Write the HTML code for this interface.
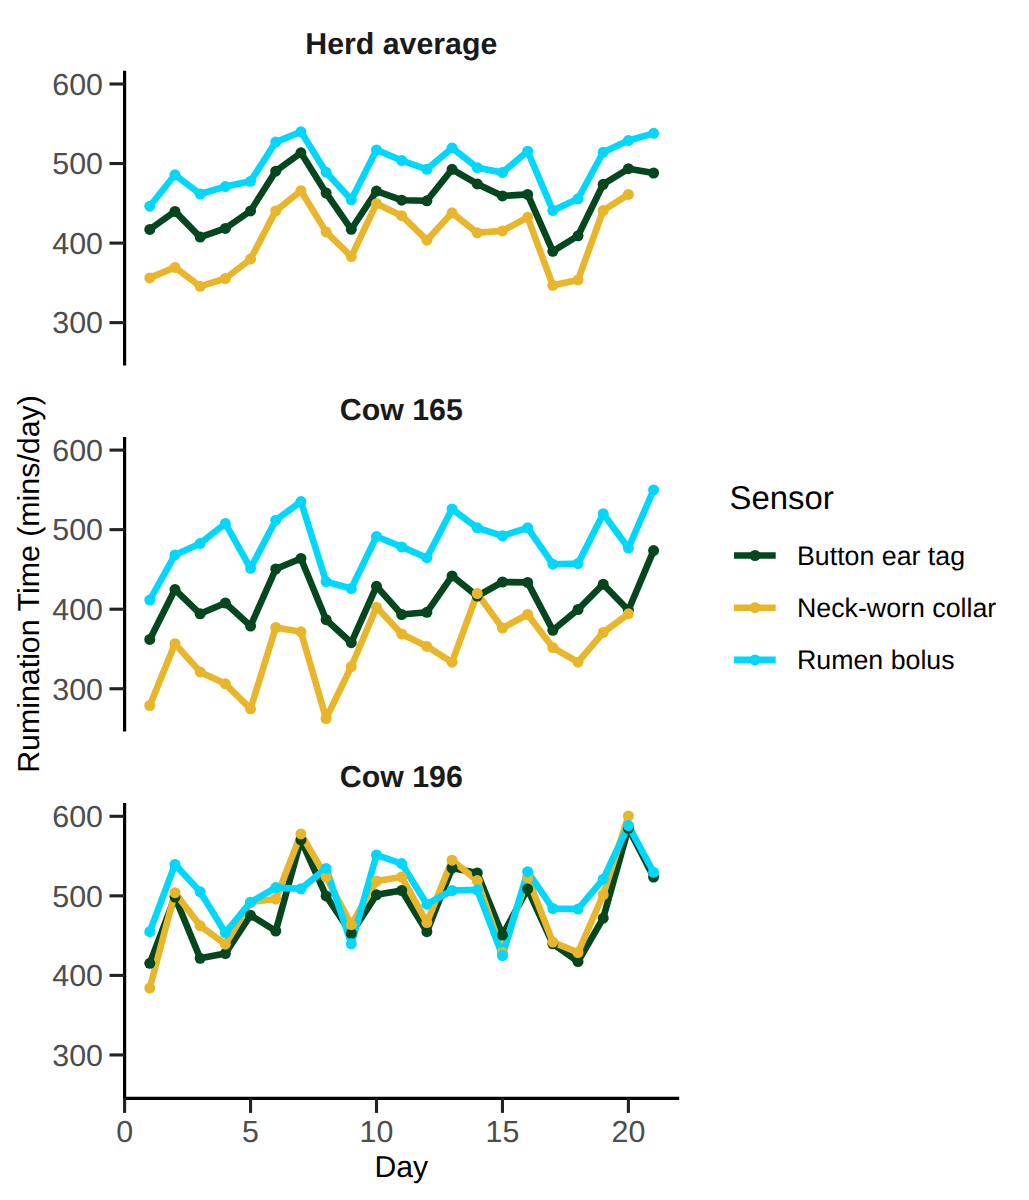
<!DOCTYPE html><html><head><meta charset="utf-8"><style>html,body{margin:0;padding:0;background:#fff;overflow:hidden;}svg{display:block;}text{font-family:"Liberation Sans",sans-serif;text-rendering:geometricPrecision;}</style></head><body>
<svg width="1029" height="1200" viewBox="0 0 1029 1200">
<rect width="1029" height="1200" fill="#fff"/>
<line x1="124.6" y1="70.7" x2="124.6" y2="365.4" stroke="#000" stroke-width="3.2"/>
<line x1="109.5" y1="84.00" x2="124.6" y2="84.00" stroke="#222" stroke-width="3.1"/>
<text x="103.0" y="94.80" font-size="30.4" fill="#4D4D4D" text-anchor="end">600</text>
<line x1="109.5" y1="163.55" x2="124.6" y2="163.55" stroke="#222" stroke-width="3.1"/>
<text x="103.0" y="174.35" font-size="30.4" fill="#4D4D4D" text-anchor="end">500</text>
<line x1="109.5" y1="243.10" x2="124.6" y2="243.10" stroke="#222" stroke-width="3.1"/>
<text x="103.0" y="253.90" font-size="30.4" fill="#4D4D4D" text-anchor="end">400</text>
<line x1="109.5" y1="322.65" x2="124.6" y2="322.65" stroke="#222" stroke-width="3.1"/>
<text x="103.0" y="333.45" font-size="30.4" fill="#4D4D4D" text-anchor="end">300</text>
<text x="401.3" y="54.20" font-size="30.3" font-weight="bold" fill="#1A1A1A" text-anchor="middle">Herd average</text>
<polyline points="149.79,229.40 174.98,211.40 200.17,237.10 225.36,228.40 250.55,210.90 275.74,171.20 300.93,152.80 326.12,193.00 351.31,229.30 376.50,191.10 401.69,200.20 426.88,200.80 452.07,169.30 477.26,183.90 502.45,195.90 527.64,194.40 552.83,251.30 578.02,235.80 603.21,184.30 628.40,168.70 653.59,173.00" fill="none" stroke="#04461E" stroke-width="6.6" stroke-linejoin="round"/>
<polyline points="149.79,277.90 174.98,267.40 200.17,286.30 225.36,278.50 250.55,259.10 275.74,210.90 300.93,190.70 326.12,231.90 351.31,256.60 376.50,203.70 401.69,215.70 426.88,240.20 452.07,212.80 477.26,232.80 502.45,230.90 527.64,217.30 552.83,285.30 578.02,279.90 603.21,210.50 628.40,194.40" fill="none" stroke="#E8B52B" stroke-width="6.6" stroke-linejoin="round"/>
<polyline points="149.79,206.20 174.98,174.80 200.17,194.00 225.36,186.60 250.55,181.30 275.74,142.10 300.93,131.80 326.12,172.20 351.31,199.80 376.50,149.90 401.69,160.50 426.88,169.30 452.07,147.90 477.26,167.70 502.45,172.60 527.64,151.20 552.83,210.50 578.02,198.80 603.21,152.20 628.40,140.50 653.59,133.30" fill="none" stroke="#00D7FC" stroke-width="6.6" stroke-linejoin="round"/>
<circle cx="149.79" cy="229.40" r="5.5" fill="#04461E"/>
<circle cx="174.98" cy="211.40" r="5.5" fill="#04461E"/>
<circle cx="200.17" cy="237.10" r="5.5" fill="#04461E"/>
<circle cx="225.36" cy="228.40" r="5.5" fill="#04461E"/>
<circle cx="250.55" cy="210.90" r="5.5" fill="#04461E"/>
<circle cx="275.74" cy="171.20" r="5.5" fill="#04461E"/>
<circle cx="300.93" cy="152.80" r="5.5" fill="#04461E"/>
<circle cx="326.12" cy="193.00" r="5.5" fill="#04461E"/>
<circle cx="351.31" cy="229.30" r="5.5" fill="#04461E"/>
<circle cx="376.50" cy="191.10" r="5.5" fill="#04461E"/>
<circle cx="401.69" cy="200.20" r="5.5" fill="#04461E"/>
<circle cx="426.88" cy="200.80" r="5.5" fill="#04461E"/>
<circle cx="452.07" cy="169.30" r="5.5" fill="#04461E"/>
<circle cx="477.26" cy="183.90" r="5.5" fill="#04461E"/>
<circle cx="502.45" cy="195.90" r="5.5" fill="#04461E"/>
<circle cx="527.64" cy="194.40" r="5.5" fill="#04461E"/>
<circle cx="552.83" cy="251.30" r="5.5" fill="#04461E"/>
<circle cx="578.02" cy="235.80" r="5.5" fill="#04461E"/>
<circle cx="603.21" cy="184.30" r="5.5" fill="#04461E"/>
<circle cx="628.40" cy="168.70" r="5.5" fill="#04461E"/>
<circle cx="653.59" cy="173.00" r="5.5" fill="#04461E"/>
<circle cx="149.79" cy="277.90" r="5.5" fill="#E8B52B"/>
<circle cx="174.98" cy="267.40" r="5.5" fill="#E8B52B"/>
<circle cx="200.17" cy="286.30" r="5.5" fill="#E8B52B"/>
<circle cx="225.36" cy="278.50" r="5.5" fill="#E8B52B"/>
<circle cx="250.55" cy="259.10" r="5.5" fill="#E8B52B"/>
<circle cx="275.74" cy="210.90" r="5.5" fill="#E8B52B"/>
<circle cx="300.93" cy="190.70" r="5.5" fill="#E8B52B"/>
<circle cx="326.12" cy="231.90" r="5.5" fill="#E8B52B"/>
<circle cx="351.31" cy="256.60" r="5.5" fill="#E8B52B"/>
<circle cx="376.50" cy="203.70" r="5.5" fill="#E8B52B"/>
<circle cx="401.69" cy="215.70" r="5.5" fill="#E8B52B"/>
<circle cx="426.88" cy="240.20" r="5.5" fill="#E8B52B"/>
<circle cx="452.07" cy="212.80" r="5.5" fill="#E8B52B"/>
<circle cx="477.26" cy="232.80" r="5.5" fill="#E8B52B"/>
<circle cx="502.45" cy="230.90" r="5.5" fill="#E8B52B"/>
<circle cx="527.64" cy="217.30" r="5.5" fill="#E8B52B"/>
<circle cx="552.83" cy="285.30" r="5.5" fill="#E8B52B"/>
<circle cx="578.02" cy="279.90" r="5.5" fill="#E8B52B"/>
<circle cx="603.21" cy="210.50" r="5.5" fill="#E8B52B"/>
<circle cx="628.40" cy="194.40" r="5.5" fill="#E8B52B"/>
<circle cx="149.79" cy="206.20" r="5.5" fill="#00D7FC"/>
<circle cx="174.98" cy="174.80" r="5.5" fill="#00D7FC"/>
<circle cx="200.17" cy="194.00" r="5.5" fill="#00D7FC"/>
<circle cx="225.36" cy="186.60" r="5.5" fill="#00D7FC"/>
<circle cx="250.55" cy="181.30" r="5.5" fill="#00D7FC"/>
<circle cx="275.74" cy="142.10" r="5.5" fill="#00D7FC"/>
<circle cx="300.93" cy="131.80" r="5.5" fill="#00D7FC"/>
<circle cx="326.12" cy="172.20" r="5.5" fill="#00D7FC"/>
<circle cx="351.31" cy="199.80" r="5.5" fill="#00D7FC"/>
<circle cx="376.50" cy="149.90" r="5.5" fill="#00D7FC"/>
<circle cx="401.69" cy="160.50" r="5.5" fill="#00D7FC"/>
<circle cx="426.88" cy="169.30" r="5.5" fill="#00D7FC"/>
<circle cx="452.07" cy="147.90" r="5.5" fill="#00D7FC"/>
<circle cx="477.26" cy="167.70" r="5.5" fill="#00D7FC"/>
<circle cx="502.45" cy="172.60" r="5.5" fill="#00D7FC"/>
<circle cx="527.64" cy="151.20" r="5.5" fill="#00D7FC"/>
<circle cx="552.83" cy="210.50" r="5.5" fill="#00D7FC"/>
<circle cx="578.02" cy="198.80" r="5.5" fill="#00D7FC"/>
<circle cx="603.21" cy="152.20" r="5.5" fill="#00D7FC"/>
<circle cx="628.40" cy="140.50" r="5.5" fill="#00D7FC"/>
<circle cx="653.59" cy="133.30" r="5.5" fill="#00D7FC"/>
<line x1="124.6" y1="436.9" x2="124.6" y2="731.5" stroke="#000" stroke-width="3.2"/>
<line x1="109.5" y1="450.10" x2="124.6" y2="450.10" stroke="#222" stroke-width="3.1"/>
<text x="103.0" y="460.90" font-size="30.4" fill="#4D4D4D" text-anchor="end">600</text>
<line x1="109.5" y1="529.65" x2="124.6" y2="529.65" stroke="#222" stroke-width="3.1"/>
<text x="103.0" y="540.45" font-size="30.4" fill="#4D4D4D" text-anchor="end">500</text>
<line x1="109.5" y1="609.20" x2="124.6" y2="609.20" stroke="#222" stroke-width="3.1"/>
<text x="103.0" y="620.00" font-size="30.4" fill="#4D4D4D" text-anchor="end">400</text>
<line x1="109.5" y1="688.75" x2="124.6" y2="688.75" stroke="#222" stroke-width="3.1"/>
<text x="103.0" y="699.55" font-size="30.4" fill="#4D4D4D" text-anchor="end">300</text>
<text x="401.3" y="420.35" font-size="30.3" font-weight="bold" fill="#1A1A1A" text-anchor="middle">Cow 165</text>
<polyline points="149.79,639.40 174.98,589.60 200.17,613.80 225.36,603.00 250.55,626.00 275.74,569.00 300.93,558.50 326.12,619.70 351.31,642.70 376.50,586.30 401.69,614.50 426.88,612.30 452.07,575.90 477.26,596.10 502.45,582.00 527.64,582.40 552.83,630.30 578.02,609.50 603.21,584.20 628.40,610.20 653.59,550.60" fill="none" stroke="#04461E" stroke-width="6.6" stroke-linejoin="round"/>
<polyline points="149.79,705.50 174.98,643.70 200.17,671.90 225.36,683.80 250.55,708.80 275.74,627.50 300.93,631.80 326.12,718.50 351.31,666.50 376.50,607.30 401.69,634.00 426.88,646.40 452.07,662.20 477.26,593.50 502.45,628.10 527.64,614.50 552.83,647.60 578.02,662.20 603.21,632.50 628.40,613.80" fill="none" stroke="#E8B52B" stroke-width="6.6" stroke-linejoin="round"/>
<polyline points="149.79,600.00 174.98,554.90 200.17,543.40 225.36,523.50 250.55,568.30 275.74,520.20 300.93,501.60 326.12,581.70 351.31,588.50 376.50,536.50 401.69,546.90 426.88,557.70 452.07,509.00 477.26,527.80 502.45,535.80 527.64,527.80 552.83,564.20 578.02,563.60 603.21,513.70 628.40,548.00 653.59,489.90" fill="none" stroke="#00D7FC" stroke-width="6.6" stroke-linejoin="round"/>
<circle cx="149.79" cy="639.40" r="5.5" fill="#04461E"/>
<circle cx="174.98" cy="589.60" r="5.5" fill="#04461E"/>
<circle cx="200.17" cy="613.80" r="5.5" fill="#04461E"/>
<circle cx="225.36" cy="603.00" r="5.5" fill="#04461E"/>
<circle cx="250.55" cy="626.00" r="5.5" fill="#04461E"/>
<circle cx="275.74" cy="569.00" r="5.5" fill="#04461E"/>
<circle cx="300.93" cy="558.50" r="5.5" fill="#04461E"/>
<circle cx="326.12" cy="619.70" r="5.5" fill="#04461E"/>
<circle cx="351.31" cy="642.70" r="5.5" fill="#04461E"/>
<circle cx="376.50" cy="586.30" r="5.5" fill="#04461E"/>
<circle cx="401.69" cy="614.50" r="5.5" fill="#04461E"/>
<circle cx="426.88" cy="612.30" r="5.5" fill="#04461E"/>
<circle cx="452.07" cy="575.90" r="5.5" fill="#04461E"/>
<circle cx="477.26" cy="596.10" r="5.5" fill="#04461E"/>
<circle cx="502.45" cy="582.00" r="5.5" fill="#04461E"/>
<circle cx="527.64" cy="582.40" r="5.5" fill="#04461E"/>
<circle cx="552.83" cy="630.30" r="5.5" fill="#04461E"/>
<circle cx="578.02" cy="609.50" r="5.5" fill="#04461E"/>
<circle cx="603.21" cy="584.20" r="5.5" fill="#04461E"/>
<circle cx="628.40" cy="610.20" r="5.5" fill="#04461E"/>
<circle cx="653.59" cy="550.60" r="5.5" fill="#04461E"/>
<circle cx="149.79" cy="705.50" r="5.5" fill="#E8B52B"/>
<circle cx="174.98" cy="643.70" r="5.5" fill="#E8B52B"/>
<circle cx="200.17" cy="671.90" r="5.5" fill="#E8B52B"/>
<circle cx="225.36" cy="683.80" r="5.5" fill="#E8B52B"/>
<circle cx="250.55" cy="708.80" r="5.5" fill="#E8B52B"/>
<circle cx="275.74" cy="627.50" r="5.5" fill="#E8B52B"/>
<circle cx="300.93" cy="631.80" r="5.5" fill="#E8B52B"/>
<circle cx="326.12" cy="718.50" r="5.5" fill="#E8B52B"/>
<circle cx="351.31" cy="666.50" r="5.5" fill="#E8B52B"/>
<circle cx="376.50" cy="607.30" r="5.5" fill="#E8B52B"/>
<circle cx="401.69" cy="634.00" r="5.5" fill="#E8B52B"/>
<circle cx="426.88" cy="646.40" r="5.5" fill="#E8B52B"/>
<circle cx="452.07" cy="662.20" r="5.5" fill="#E8B52B"/>
<circle cx="477.26" cy="593.50" r="5.5" fill="#E8B52B"/>
<circle cx="502.45" cy="628.10" r="5.5" fill="#E8B52B"/>
<circle cx="527.64" cy="614.50" r="5.5" fill="#E8B52B"/>
<circle cx="552.83" cy="647.60" r="5.5" fill="#E8B52B"/>
<circle cx="578.02" cy="662.20" r="5.5" fill="#E8B52B"/>
<circle cx="603.21" cy="632.50" r="5.5" fill="#E8B52B"/>
<circle cx="628.40" cy="613.80" r="5.5" fill="#E8B52B"/>
<circle cx="149.79" cy="600.00" r="5.5" fill="#00D7FC"/>
<circle cx="174.98" cy="554.90" r="5.5" fill="#00D7FC"/>
<circle cx="200.17" cy="543.40" r="5.5" fill="#00D7FC"/>
<circle cx="225.36" cy="523.50" r="5.5" fill="#00D7FC"/>
<circle cx="250.55" cy="568.30" r="5.5" fill="#00D7FC"/>
<circle cx="275.74" cy="520.20" r="5.5" fill="#00D7FC"/>
<circle cx="300.93" cy="501.60" r="5.5" fill="#00D7FC"/>
<circle cx="326.12" cy="581.70" r="5.5" fill="#00D7FC"/>
<circle cx="351.31" cy="588.50" r="5.5" fill="#00D7FC"/>
<circle cx="376.50" cy="536.50" r="5.5" fill="#00D7FC"/>
<circle cx="401.69" cy="546.90" r="5.5" fill="#00D7FC"/>
<circle cx="426.88" cy="557.70" r="5.5" fill="#00D7FC"/>
<circle cx="452.07" cy="509.00" r="5.5" fill="#00D7FC"/>
<circle cx="477.26" cy="527.80" r="5.5" fill="#00D7FC"/>
<circle cx="502.45" cy="535.80" r="5.5" fill="#00D7FC"/>
<circle cx="527.64" cy="527.80" r="5.5" fill="#00D7FC"/>
<circle cx="552.83" cy="564.20" r="5.5" fill="#00D7FC"/>
<circle cx="578.02" cy="563.60" r="5.5" fill="#00D7FC"/>
<circle cx="603.21" cy="513.70" r="5.5" fill="#00D7FC"/>
<circle cx="628.40" cy="548.00" r="5.5" fill="#00D7FC"/>
<circle cx="653.59" cy="489.90" r="5.5" fill="#00D7FC"/>
<line x1="124.6" y1="803.1" x2="124.6" y2="1100.0" stroke="#000" stroke-width="3.2"/>
<line x1="109.5" y1="816.30" x2="124.6" y2="816.30" stroke="#222" stroke-width="3.1"/>
<text x="103.0" y="827.10" font-size="30.4" fill="#4D4D4D" text-anchor="end">600</text>
<line x1="109.5" y1="895.85" x2="124.6" y2="895.85" stroke="#222" stroke-width="3.1"/>
<text x="103.0" y="906.65" font-size="30.4" fill="#4D4D4D" text-anchor="end">500</text>
<line x1="109.5" y1="975.40" x2="124.6" y2="975.40" stroke="#222" stroke-width="3.1"/>
<text x="103.0" y="986.20" font-size="30.4" fill="#4D4D4D" text-anchor="end">400</text>
<line x1="109.5" y1="1054.95" x2="124.6" y2="1054.95" stroke="#222" stroke-width="3.1"/>
<text x="103.0" y="1065.75" font-size="30.4" fill="#4D4D4D" text-anchor="end">300</text>
<text x="401.3" y="786.50" font-size="30.3" font-weight="bold" fill="#1A1A1A" text-anchor="middle">Cow 196</text>
<polyline points="149.79,963.30 174.98,897.00 200.17,958.30 225.36,953.50 250.55,915.30 275.74,931.00 300.93,839.90 326.12,895.90 351.31,933.40 376.50,894.80 401.69,890.50 426.88,931.70 452.07,868.00 477.26,872.90 502.45,935.10 527.64,889.00 552.83,943.80 578.02,961.60 603.21,918.20 628.40,828.30 653.59,877.10" fill="none" stroke="#04461E" stroke-width="6.6" stroke-linejoin="round"/>
<polyline points="149.79,988.00 174.98,892.70 200.17,925.80 225.36,944.20 250.55,902.20 275.74,899.00 300.93,833.90 326.12,877.10 351.31,924.70 376.50,881.00 401.69,877.10 426.88,922.60 452.07,860.20 477.26,880.60 502.45,952.50 527.64,877.50 552.83,942.10 578.02,952.50 603.21,894.80 628.40,816.00" fill="none" stroke="#E8B52B" stroke-width="6.6" stroke-linejoin="round"/>
<polyline points="149.79,931.70 174.98,864.50 200.17,891.80 225.36,932.90 250.55,902.20 275.74,887.60 300.93,888.80 326.12,868.40 351.31,943.80 376.50,855.00 401.69,863.60 426.88,904.20 452.07,890.50 477.26,889.80 502.45,955.50 527.64,871.70 552.83,908.50 578.02,909.10 603.21,879.20 628.40,825.50 653.59,872.30" fill="none" stroke="#00D7FC" stroke-width="6.6" stroke-linejoin="round"/>
<circle cx="149.79" cy="963.30" r="5.5" fill="#04461E"/>
<circle cx="174.98" cy="897.00" r="5.5" fill="#04461E"/>
<circle cx="200.17" cy="958.30" r="5.5" fill="#04461E"/>
<circle cx="225.36" cy="953.50" r="5.5" fill="#04461E"/>
<circle cx="250.55" cy="915.30" r="5.5" fill="#04461E"/>
<circle cx="275.74" cy="931.00" r="5.5" fill="#04461E"/>
<circle cx="300.93" cy="839.90" r="5.5" fill="#04461E"/>
<circle cx="326.12" cy="895.90" r="5.5" fill="#04461E"/>
<circle cx="351.31" cy="933.40" r="5.5" fill="#04461E"/>
<circle cx="376.50" cy="894.80" r="5.5" fill="#04461E"/>
<circle cx="401.69" cy="890.50" r="5.5" fill="#04461E"/>
<circle cx="426.88" cy="931.70" r="5.5" fill="#04461E"/>
<circle cx="452.07" cy="868.00" r="5.5" fill="#04461E"/>
<circle cx="477.26" cy="872.90" r="5.5" fill="#04461E"/>
<circle cx="502.45" cy="935.10" r="5.5" fill="#04461E"/>
<circle cx="527.64" cy="889.00" r="5.5" fill="#04461E"/>
<circle cx="552.83" cy="943.80" r="5.5" fill="#04461E"/>
<circle cx="578.02" cy="961.60" r="5.5" fill="#04461E"/>
<circle cx="603.21" cy="918.20" r="5.5" fill="#04461E"/>
<circle cx="628.40" cy="828.30" r="5.5" fill="#04461E"/>
<circle cx="653.59" cy="877.10" r="5.5" fill="#04461E"/>
<circle cx="149.79" cy="988.00" r="5.5" fill="#E8B52B"/>
<circle cx="174.98" cy="892.70" r="5.5" fill="#E8B52B"/>
<circle cx="200.17" cy="925.80" r="5.5" fill="#E8B52B"/>
<circle cx="225.36" cy="944.20" r="5.5" fill="#E8B52B"/>
<circle cx="250.55" cy="902.20" r="5.5" fill="#E8B52B"/>
<circle cx="275.74" cy="899.00" r="5.5" fill="#E8B52B"/>
<circle cx="300.93" cy="833.90" r="5.5" fill="#E8B52B"/>
<circle cx="326.12" cy="877.10" r="5.5" fill="#E8B52B"/>
<circle cx="351.31" cy="924.70" r="5.5" fill="#E8B52B"/>
<circle cx="376.50" cy="881.00" r="5.5" fill="#E8B52B"/>
<circle cx="401.69" cy="877.10" r="5.5" fill="#E8B52B"/>
<circle cx="426.88" cy="922.60" r="5.5" fill="#E8B52B"/>
<circle cx="452.07" cy="860.20" r="5.5" fill="#E8B52B"/>
<circle cx="477.26" cy="880.60" r="5.5" fill="#E8B52B"/>
<circle cx="502.45" cy="952.50" r="5.5" fill="#E8B52B"/>
<circle cx="527.64" cy="877.50" r="5.5" fill="#E8B52B"/>
<circle cx="552.83" cy="942.10" r="5.5" fill="#E8B52B"/>
<circle cx="578.02" cy="952.50" r="5.5" fill="#E8B52B"/>
<circle cx="603.21" cy="894.80" r="5.5" fill="#E8B52B"/>
<circle cx="628.40" cy="816.00" r="5.5" fill="#E8B52B"/>
<circle cx="149.79" cy="931.70" r="5.5" fill="#00D7FC"/>
<circle cx="174.98" cy="864.50" r="5.5" fill="#00D7FC"/>
<circle cx="200.17" cy="891.80" r="5.5" fill="#00D7FC"/>
<circle cx="225.36" cy="932.90" r="5.5" fill="#00D7FC"/>
<circle cx="250.55" cy="902.20" r="5.5" fill="#00D7FC"/>
<circle cx="275.74" cy="887.60" r="5.5" fill="#00D7FC"/>
<circle cx="300.93" cy="888.80" r="5.5" fill="#00D7FC"/>
<circle cx="326.12" cy="868.40" r="5.5" fill="#00D7FC"/>
<circle cx="351.31" cy="943.80" r="5.5" fill="#00D7FC"/>
<circle cx="376.50" cy="855.00" r="5.5" fill="#00D7FC"/>
<circle cx="401.69" cy="863.60" r="5.5" fill="#00D7FC"/>
<circle cx="426.88" cy="904.20" r="5.5" fill="#00D7FC"/>
<circle cx="452.07" cy="890.50" r="5.5" fill="#00D7FC"/>
<circle cx="477.26" cy="889.80" r="5.5" fill="#00D7FC"/>
<circle cx="502.45" cy="955.50" r="5.5" fill="#00D7FC"/>
<circle cx="527.64" cy="871.70" r="5.5" fill="#00D7FC"/>
<circle cx="552.83" cy="908.50" r="5.5" fill="#00D7FC"/>
<circle cx="578.02" cy="909.10" r="5.5" fill="#00D7FC"/>
<circle cx="603.21" cy="879.20" r="5.5" fill="#00D7FC"/>
<circle cx="628.40" cy="825.50" r="5.5" fill="#00D7FC"/>
<circle cx="653.59" cy="872.30" r="5.5" fill="#00D7FC"/>
<line x1="123.0" y1="1098.4" x2="679.2" y2="1098.4" stroke="#000" stroke-width="3.2"/>
<line x1="124.60" y1="1098.4" x2="124.60" y2="1112.9" stroke="#222" stroke-width="3.1"/>
<text x="124.60" y="1141.5" font-size="30.4" fill="#4D4D4D" text-anchor="middle">0</text>
<line x1="250.55" y1="1098.4" x2="250.55" y2="1112.9" stroke="#222" stroke-width="3.1"/>
<text x="250.55" y="1141.5" font-size="30.4" fill="#4D4D4D" text-anchor="middle">5</text>
<line x1="376.50" y1="1098.4" x2="376.50" y2="1112.9" stroke="#222" stroke-width="3.1"/>
<text x="376.50" y="1141.5" font-size="30.4" fill="#4D4D4D" text-anchor="middle">10</text>
<line x1="502.45" y1="1098.4" x2="502.45" y2="1112.9" stroke="#222" stroke-width="3.1"/>
<text x="502.45" y="1141.5" font-size="30.4" fill="#4D4D4D" text-anchor="middle">15</text>
<line x1="628.40" y1="1098.4" x2="628.40" y2="1112.9" stroke="#222" stroke-width="3.1"/>
<text x="628.40" y="1141.5" font-size="30.4" fill="#4D4D4D" text-anchor="middle">20</text>
<text x="401.3" y="1177.0" font-size="30.2" fill="#000" text-anchor="middle">Day</text>
<text transform="translate(38.6,584.0) rotate(-90)" font-size="30.35" fill="#000" text-anchor="middle">Rumination Time (mins/day)</text>
<text x="729.5" y="509.4" font-size="32.9" fill="#000">Sensor</text>
<line x1="734" y1="555.5" x2="775.7" y2="555.5" stroke="#04461E" stroke-width="6.6"/>
<circle cx="755" cy="555.5" r="5.5" fill="#04461E"/>
<text x="797" y="564.70" font-size="26.75" fill="#000">Button ear tag</text>
<line x1="734" y1="607.7" x2="775.7" y2="607.7" stroke="#E8B52B" stroke-width="6.6"/>
<circle cx="755" cy="607.7" r="5.5" fill="#E8B52B"/>
<text x="797" y="616.90" font-size="26.75" fill="#000">Neck-worn collar</text>
<line x1="734" y1="659.9" x2="775.7" y2="659.9" stroke="#00D7FC" stroke-width="6.6"/>
<circle cx="755" cy="659.9" r="5.5" fill="#00D7FC"/>
<text x="797" y="669.10" font-size="26.75" fill="#000">Rumen bolus</text>
</svg></body></html>
